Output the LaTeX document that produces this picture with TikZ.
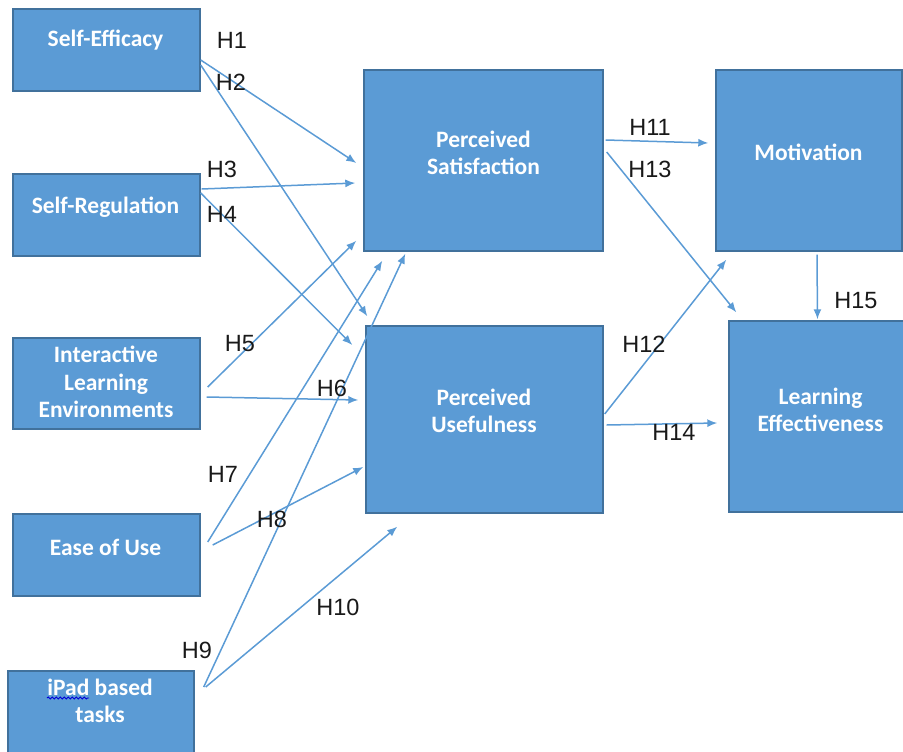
\documentclass[tikz,border=0pt]{standalone}
\usepackage{fontspec}
\usetikzlibrary{arrows.meta,calc,decorations.pathmorphing}
\newfontfamily\boxfont{Carlito}
\newfontfamily\labfont{Liberation Sans}
\definecolor{boxfill}{HTML}{5B9BD5}
\definecolor{boxedge}{HTML}{41719C}
\definecolor{linkcol}{HTML}{5B9BD5}
\tikzset{
  construct/.style={rectangle, fill=boxfill, draw=boxedge, line width=1.4pt, inner sep=0pt},
  boxtext/.style={text=white, align=center, inner sep=0pt,
    font=\boxfont\bfseries\fontsize{23.5}{27.5}\selectfont},
  hyp/.style={text=black!90, inner sep=0pt, font=\labfont\fontsize{23.5}{27}\selectfont},
  link/.style={draw=linkcol, line width=1.5pt, -{Latex[length=10pt,width=8pt]}},
}
\begin{document}
\begin{tikzpicture}[x=1pt,y=-1pt]
\useasboundingbox (0,0) rectangle (903,752);

% independent constructs
\node[construct, minimum width=187pt, minimum height=82pt] (se) at (106.5,50) {};
\node[construct, minimum width=187pt, minimum height=82pt] (sr) at (106.5,215) {};
\node[construct, minimum width=187pt, minimum height=91pt] (ile) at (106.5,383.5) {};
\node[construct, minimum width=187pt, minimum height=82pt] (eou) at (106.5,555) {};
\node[construct, minimum width=186pt, minimum height=89pt] (ipad) at (101,715.5) {};

% mediators and outcomes
\node[construct, minimum width=239pt, minimum height=181pt] (ps) at (483.5,160.5) {};
\node[construct, minimum width=237pt, minimum height=187pt] (pu) at (484.5,419.5) {};
\node[construct, minimum width=186pt, minimum height=181pt] (mot) at (809,160.5) {};
\node[construct, minimum width=176pt, minimum height=191pt] (le) at (817,416.5) {};

% box captions
\node[boxtext] (se-t) at (105.5,40) {Self-Efficacy};
\node[boxtext] (sr-t) at (105.5,207) {Self-Regulation};
\node[boxtext] (ile-t) at (106,382) {Interactive\\Learning\\Environments};
\node[boxtext] (eou-t) at (105.5,547) {Ease of Use};
\node[boxtext] (ipad-t) at (100,701) {iPad based\\tasks};
\node[boxtext] (ps-t) at (483.5,153) {Perceived\\Satisfaction};
\node[boxtext] (mot-t) at (808.5,152) {Motivation};
\node[boxtext] (pu-t) at (484,411) {Perceived\\Usefulness};
\node[boxtext] (le-t) at (820.5,410) {Learning\\Effectiveness};

% spelling squiggle under "iPad"
\draw[blue!85!black, line width=0.9pt, decorate,
  decoration={snake, segment length=4pt, amplitude=1pt}] (47,698) -- (89,698);

% hypothesised paths
\draw[link] ($(se.east)+(0,10)$) -- ($(ps.west)+(-7,2.5)$);
\draw[link] ($(se.east)+(0,15)$) -- ($(pu.north west)+(2,-9)$);
\draw[link] ($(sr.east)+(1,-26)$) -- ($(ps.west)+(-8,22.5)$);
\draw[link] ($(sr.east)+(0,-22)$) -- ($(pu.west)+(-13,-74.5)$);
\draw[link] ($(ile.east)+(7,3.5)$) -- ($(ps.south west)+(-7,-11)$);
\draw[link] ($(ile.east)+(6,13.5)$) -- ($(pu.west)+(-7,-19.5)$);
\draw[link] ($(eou.east)+(7,-13)$) -- ($(ps.south west)+(19,9)$);
\draw[link] ($(eou.east)+(12,-10)$) -- ($(pu.west)+(-2,47.5)$);
\draw[link] ($(ipad.east)+(9,-28.5)$) -- ($(ps.south west)+(42,2)$);
\draw[link] ($(ipad.east)+(11,-28.5)$) -- ($(pu.south west)+(32,13)$);
\draw[link] ($(ps.east)+(2,-20.5)$) -- ($(mot.west)+(-7,-17.5)$);
\draw[link] ($(ps.east)+(3,-8.5)$) -- ($(le.north west)+(8,-8)$);
\draw[link] ($(pu.east)+(1,-5.5)$) -- ($(mot.south west)+(11,8)$);
\draw[link] ($(pu.east)+(3,5.5)$) -- ($(le.west)+(-11,6.5)$);
\draw[link] ($(mot.south)+(8,3)$) -- ($(le.north)+(0.5,-1)$);

% hypothesis labels
\node[hyp] (h1) at (232,40) {H1};
\node[hyp] (h2) at (231,82) {H2};
\node[hyp] (h3) at (222,169) {H3};
\node[hyp] (h4) at (222,214) {H4};
\node[hyp] (h5) at (240,344) {H5};
\node[hyp] (h6) at (332,388) {H6};
\node[hyp] (h7) at (223,474) {H7};
\node[hyp] (h8) at (272,519) {H8};
\node[hyp] (h9) at (197,650) {H9};
\node[hyp] (h10) at (338,607) {H10};
\node[hyp] (h11) at (650,127) {H11};
\node[hyp] (h13) at (650,169) {H13};
\node[hyp] (h12) at (644,344) {H12};
\node[hyp] (h14) at (674,432) {H14};
\node[hyp] (h15) at (856,301) {H15};
\end{tikzpicture}
\end{document}
